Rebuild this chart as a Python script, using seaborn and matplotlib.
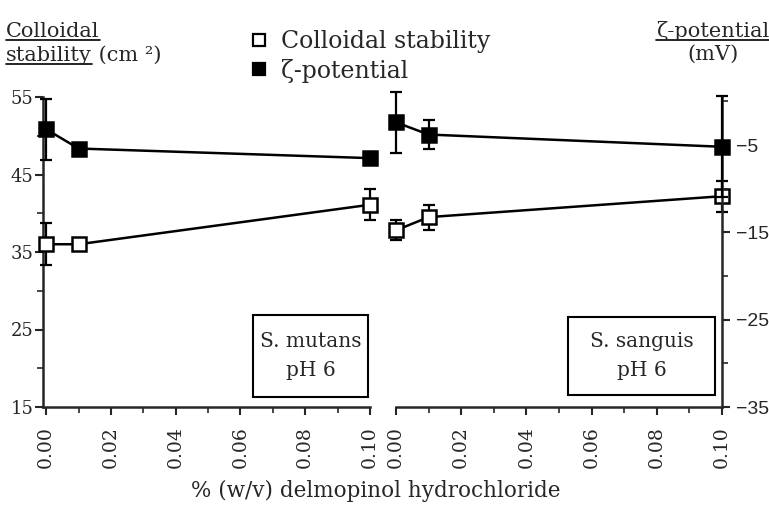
import matplotlib
matplotlib.use("Agg")
import matplotlib.pyplot as plt
import seaborn as sns
from matplotlib.lines import Line2D
from matplotlib.patches import Rectangle
from matplotlib.ticker import MultipleLocator

# values
conc = [0.0, 0.01, 0.10]

stab_mutans = [36.0, 36.0, 41.1]
stab_mutans_err = [2.7, 0.4, 2.0]
zeta_mutans = [-3.2, -5.4, -6.5]
zeta_mutans_err = [3.5, 0.5, 0.5]

stab_sanguis = [37.8, 39.5, 42.2]
stab_sanguis_err = [1.3, 1.6, 2.0]
zeta_sanguis = [-2.4, -3.8, -5.2]
zeta_sanguis_err = [3.5, 1.7, 5.8]

panel_labels = ["S. mutans\npH 6", "S. sanguis\npH 6"]
x_ticks = [0.0, 0.02, 0.04, 0.06, 0.08, 0.10]
left_ticks = [15, 25, 35, 45, 55]
right_ticks = [-35, -25, -15, -5]

sns.set_theme(style="ticks")
plt.rcParams["font.family"] = ["DejaVu Serif"]

W, H = 769, 523
fig = plt.figure(figsize=(W / 100, H / 100), dpi=100)
ax1 = fig.add_axes([43 / W, 1 - 407 / H, 327 / W, 310 / H])
ax2 = fig.add_axes([396 / W, 1 - 407 / H, 326 / W, 310 / H])
ax1z = ax1.twinx()
ax2z = ax2.twinx()


def draw_series(ax, x, y, err, filled):
    ax.errorbar(x, y, yerr=err, fmt="none", ecolor="black", elinewidth=1.6,
                capsize=4, capthick=1.6, zorder=3)
    sns.lineplot(x=x, y=y, ax=ax, color="black", linewidth=1.8, marker="s",
                 markersize=10, markeredgewidth=1.8, markeredgecolor="black",
                 markerfacecolor="black" if filled else "white", zorder=4)


draw_series(ax1, conc, stab_mutans, stab_mutans_err, False)
draw_series(ax1z, conc, zeta_mutans, zeta_mutans_err, True)
draw_series(ax2, conc, stab_sanguis, stab_sanguis_err, False)
draw_series(ax2z, conc, zeta_sanguis, zeta_sanguis_err, True)

for ax in (ax1, ax2):
    ax.set_ylim(15, 55)
for ax in (ax1z, ax2z):
    ax.set_ylim(-35, 0.5)
ax1.set_xlim(-0.001, 0.1)
ax2.set_xlim(0, 0.1)

for ax in (ax1, ax2, ax1z, ax2z):
    ax.patch.set_visible(False)
    for s in ax.spines.values():
        s.set_visible(False)
    for art in ax.get_children():
        art.set_clip_on(False)
    ax.set_xlabel("")
    ax.set_ylabel("")

# bottom axes
for ax in (ax1, ax2):
    ax.spines["bottom"].set_visible(True)
    ax.spines["bottom"].set_linewidth(1.8)
    ax.set_xticks(x_ticks)
    ax.set_xticklabels([f"{t:.2f}" for t in x_ticks], rotation=90, fontsize=13.5)
    ax.xaxis.set_minor_locator(MultipleLocator(0.01))
    ax.tick_params(axis="x", which="major", direction="out", length=6, width=1.5, pad=8)
    ax.tick_params(axis="x", which="minor", direction="out", length=4, width=1.2)

# left axis
ax1.spines["left"].set_visible(True)
ax1.spines["left"].set_linewidth(1.8)
ax1.set_yticks(left_ticks)
ax1.yaxis.set_minor_locator(MultipleLocator(5))
ax1.tick_params(axis="y", which="major", direction="out", length=6, width=1.5, labelsize=13, pad=1)
ax1.tick_params(axis="y", which="minor", direction="out", length=4, width=1.2)
ax1z.set_yticks([])
ax2.set_yticks([])
ax2.tick_params(axis="y", which="both", left=False, labelleft=False)
ax1z.tick_params(axis="y", which="both", right=False, labelright=False)

# right axis
ax2z.spines["right"].set_visible(True)
ax2z.spines["right"].set_linewidth(1.8)
ax2z.set_yticks(right_ticks)
ax2z.yaxis.set_minor_locator(MultipleLocator(5))
ax2z.tick_params(axis="y", which="major", direction="out", length=6, width=1.5, labelsize=14, pad=4)
ax2z.tick_params(axis="y", which="minor", direction="out", length=4, width=1.2)
for lab in ax2z.get_yticklabels():
    lab.set_family(["Liberation Sans", "DejaVu Sans"])

# species boxes (axes fractions)
boxes = [(ax1, panel_labels[0], 0.642, 0.994, 0.032, 0.297),
         (ax2, panel_labels[1], 0.528, 0.979, 0.039, 0.290)]
for ax, label, bx0, bx1, by0, by1 in boxes:
    ax.add_patch(Rectangle((bx0, by0), bx1 - bx0, by1 - by0, transform=ax.transAxes,
                           facecolor="white", edgecolor="black", linewidth=1.5, zorder=5,
                           clip_on=False))
    ax.text((bx0 + bx1) / 2, (by0 + by1) / 2, label, transform=ax.transAxes,
            ha="center", va="center", fontsize=14.5, linespacing=1.7, zorder=6)

fig.text(376 / W, 1 - 491 / H, "% (w/v) delmopinol hydrochloride", ha="center", va="center", fontsize=15.5)

# axis titles with underlines
renderer = fig.canvas.get_renderer()


def underline(t):
    bb = t.get_window_extent(renderer)
    y = bb.y0 + 1
    fig.add_artist(Line2D([bb.x0 / W, bb.x1 / W], [y / H, y / H], color="black", linewidth=1.2))


t1 = fig.text(6 / W, 1 - 37 / H, "Colloidal", fontsize=15, va="baseline")
t2 = fig.text(6 / W, 1 - 61 / H, "stability", fontsize=15, va="baseline")
underline(t1)
underline(t2)
b2 = t2.get_window_extent(renderer)
fig.text(b2.x1 / W, 1 - 61 / H, " (cm ²)", fontsize=15, va="baseline")

t3 = fig.text(713 / W, 1 - 37 / H, "ζ-potential", fontsize=15, va="baseline", ha="center")
underline(t3)
fig.text(713 / W, 1 - 60 / H, "(mV)", fontsize=15, va="baseline", ha="center")

handles = [
    Line2D([], [], linestyle="none", marker="s", markersize=9, markeredgewidth=1.6,
           markeredgecolor="black", markerfacecolor="white"),
    Line2D([], [], linestyle="none", marker="s", markersize=9, markeredgewidth=1.6,
           markeredgecolor="black", markerfacecolor="black"),
]
fig.legend(handles, ["Colloidal stability", "ζ-potential"], loc="upper left",
           bbox_to_anchor=(240 / W, 1 - 21 / H), frameon=False, fontsize=17,
           handlelength=0.8, handletextpad=0.55, labelspacing=0.22, borderaxespad=0)

fig.savefig("out.png", dpi=100)
